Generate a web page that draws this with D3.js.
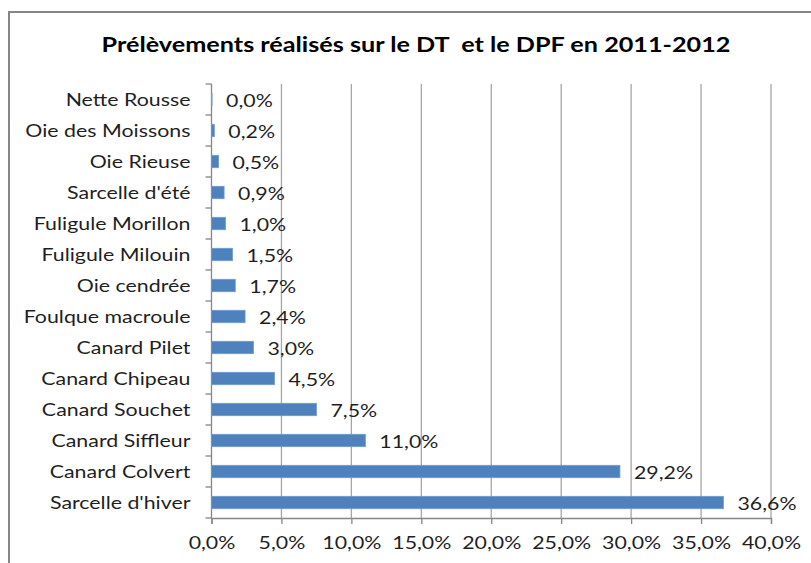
<!DOCTYPE html>
<html><head><meta charset="utf-8">
<script src="https://cdn.jsdelivr.net/npm/d3@7"></script>
<style>
html,body{margin:0;padding:0;background:#fff;}
svg{display:block;font-family:Lato,"Carlito","Open Sans",sans-serif;}
text{white-space:pre;}
</style></head>
<body>
<svg id="c" width="811" height="563"></svg>
<script>
const title = "Prélèvements réalisés sur le DT  et le DPF en 2011-2012";
const categories = ["Nette Rousse","Oie des Moissons","Oie Rieuse","Sarcelle d'été","Fuligule Morillon","Fuligule Milouin","Oie cendrée","Foulque macroule","Canard Pilet","Canard Chipeau","Canard Souchet","Canard Siffleur","Canard Colvert","Sarcelle d'hiver"];
const values = [0.04,0.2,0.5,0.9,1.0,1.5,1.7,2.4,3.0,4.5,7.5,11.0,29.2,36.6];
const xTicks = [0,5,10,15,20,25,30,35,40];

const svg = d3.select("#c");
const fmt = v => d3.format(".1f")(v).replace(".", ",") + "%";
const SX = 1.22, FS = 17.5, TXT = "#1f1f1f";

// chart border
svg.append("rect").attr("x",9).attr("y",12).attr("width",900).attr("height",700)
  .attr("fill","#fff").attr("stroke","#868686").attr("stroke-width",2);

svg.append("text").attr("transform","translate(416,52) scale(1.2,1)").attr("text-anchor","middle")
  .attr("font-weight","bold").attr("font-size",21).attr("fill","#000").text(title);

const x = d3.scaleLinear().domain([0,40]).range([211.5,771]);
const y = d3.scaleBand().domain(categories).range([84,518]).paddingInner(0.6).paddingOuter(0.3);
const yb = d3.scaleBand().domain(categories).range([84,518]);

// gridlines
svg.append("g").selectAll("line").data(xTicks.slice(1)).join("line")
  .attr("x1",d=>x(d)).attr("x2",d=>x(d)).attr("y1",84).attr("y2",518)
  .attr("stroke","#a6a6a6").attr("stroke-width",1.3);

// x axis
const xa = svg.append("g").attr("transform","translate(0,518)")
  .call(d3.axisBottom(x).tickValues(xTicks).tickSize(6).tickPadding(13).tickFormat(fmt));
xa.select(".domain").attr("stroke","#868686").attr("stroke-width",1.3);
xa.selectAll(".tick line").attr("stroke","#868686").attr("stroke-width",1.3);
xa.selectAll("text").attr("font-size",FS).attr("fill",TXT).attr("font-family","Lato, sans-serif")
  .attr("transform",`scale(${SX},1)`);

// y axis with boundary ticks
const ya = svg.append("g").attr("transform","translate(211.5,0)");
ya.append("line").attr("x1",0).attr("x2",0).attr("y1",84).attr("y2",518).attr("stroke","#868686").attr("stroke-width",1.3);
const bounds = categories.map(c=>yb(c)).concat([518]);
ya.selectAll("line.t").data(bounds).join("line").attr("class","t")
  .attr("x1",-6).attr("x2",0).attr("y1",d=>d).attr("y2",d=>d).attr("stroke","#868686").attr("stroke-width",1.3);
ya.selectAll("text").data(categories).join("text")
  .attr("transform",c=>`translate(-21,${yb(c)+yb.bandwidth()/2}) scale(${SX},1)`).attr("dy","0.35em")
  .attr("text-anchor","end").attr("font-size",FS).attr("fill",TXT).text(c=>c);

// bars
svg.append("g").selectAll("rect").data(categories).join("rect")
  .attr("x",x(0)).attr("y",(c)=>y(c)).attr("height",y.bandwidth())
  .attr("width",(c,i)=>x(values[i])-x(0))
  .attr("fill","#4f81bd").attr("stroke","#6e9bd0").attr("stroke-width",0.8);

// value labels
svg.append("g").selectAll("text").data(categories).join("text")
  .attr("transform",(c,i)=>`translate(${x(values[i])+14},${y(c)+y.bandwidth()/2}) scale(${SX},1)`).attr("dy","0.4em")
  .attr("font-size",FS).attr("fill",TXT).text((c,i)=>fmt(values[i]));
</script>
</body></html>
